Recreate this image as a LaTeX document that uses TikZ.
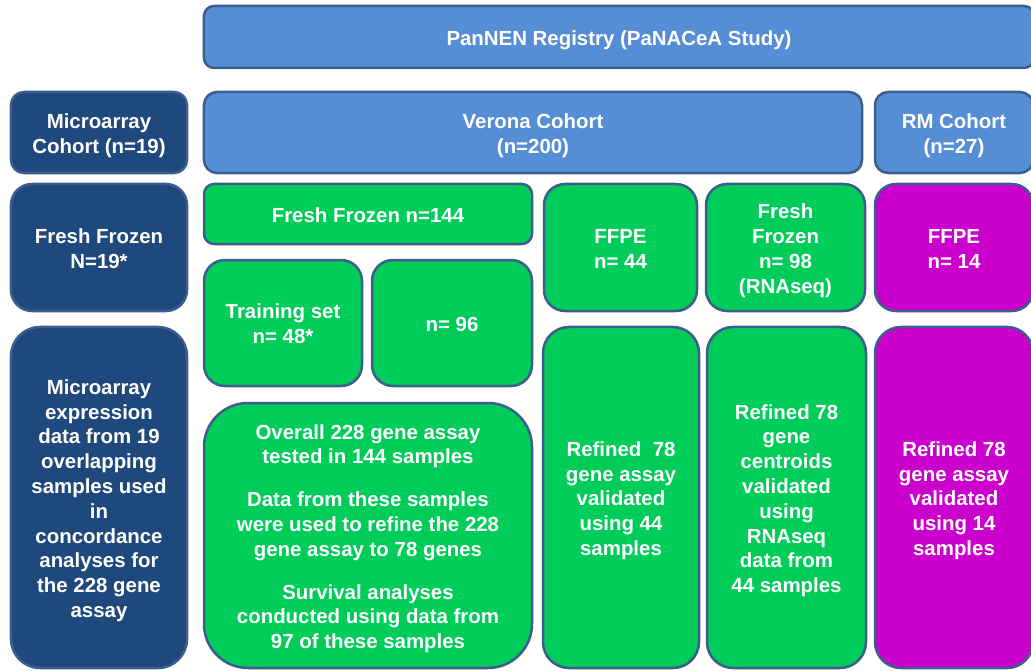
\documentclass[tikz,border=0pt]{standalone}
\usepackage{fontspec}
\setmainfont{Liberation Sans}
\definecolor{lblue}{HTML}{558ED5}
\definecolor{navy}{HTML}{1F497D}
\definecolor{grn}{HTML}{00CC5A}
\definecolor{mag}{HTML}{CC00CC}
\definecolor{edge}{HTML}{3B5E8C}
\newcommand{\T}{\rule{0pt}{21.7bp}}
\newcommand{\B}{\rule[-5bp]{0pt}{5bp}}
\tikzset{
  box/.style={rectangle, draw=edge, line width=2.5bp, inner sep=0pt, outer sep=0pt,
    text=white, align=center, font=\fontsize{20.5}{24.9}\selectfont\bfseries},
  bluebox/.style={box, fill=lblue},
  navybox/.style={box, fill=navy},
  greenbox/.style={box, fill=grn},
  magbox/.style={box, fill=mag},
  sz/.style n args={3}{minimum width=#1bp, minimum height=#2bp, rounded corners=#3bp},
}
\begin{document}
\begin{tikzpicture}[x=1bp,y=-1bp]
\useasboundingbox (0,0) rectangle (1031,671);
\clip (0,0) rectangle (1031,671);
% row 1
\node[bluebox, sz={830}{62}{10}] (pan) at (619,37) {\T PanNEN Registry (PaNACeA Study)\B};
% row 2
\node[navybox, sz={176}{81}{13}] (micro) at (99,132.5) {\T Microarray\\Cohort (n=19)\B};
\node[bluebox, sz={658}{81}{13}] (verona) at (533,132.5) {\T Verona Cohort\\(n=200)\B};
\node[bluebox, sz={158}{81}{13}] (rm) at (954,132.5) {\T RM Cohort\\(n=27)\B};
% row 3
\node[navybox, sz={176}{127}{21}] (ff19) at (99,247.5) {\T Fresh Frozen\\N=19*\B};
\node[greenbox, sz={328}{60}{10}] (ff144) at (368,214) {\T Fresh Frozen n=144\B};
\node[greenbox, sz={158}{126}{21}] (train) at (283,323) {\T Training set\\n= 48*\B};
\node[greenbox, sz={160}{126}{21}] (n96) at (452,323) {\T n= 96\B};
\node[greenbox, sz={153}{127}{21}] (ffpe44) at (620.5,247.5) {\T FFPE\\n= 44\B};
\node[greenbox, sz={159}{127}{21}] (ff98) at (785.5,247.5) {\T Fresh\\Frozen\\n= 98\\(RNAseq)\B};
\node[magbox, sz={158}{127}{21}] (ffpe14) at (954,247.5) {\T FFPE\\n= 14\B};
% row 4
\node[navybox, sz={176}{341}{29}] (mexpr) at (99,497.5) {\T Microarray\\expression\\data from 19\\overlapping\\samples used\\in\\concordance\\analyses for\\the 228 gene\\assay\B};
\node[greenbox, sz={328}{265}{44}] (overall) at (368,535.5) {\T Overall 228 gene assay\\tested in 144 samples\\[18bp]Data from these samples\\were used to refine the 228\\gene assay to 78 genes\\[18bp]Survival analyses\\conducted using data from\\97 of these samples\B};
\node[greenbox, sz={156}{341}{26}] (ref44) at (621,497.5) {\T Refined~ 78\\gene assay\\validated\\using 44\\samples\B};
\node[greenbox, sz={159}{341}{26}] (refcent) at (786.5,497.5) {\T Refined 78\\gene\\centroids\\validated\\using\\RNAseq\\data from\\44 samples\B};
\node[magbox, sz={158}{341}{26}] (refmag) at (954,497.5) {\T Refined 78\\gene assay\\validated\\using 14\\samples\B};
\end{tikzpicture}
\end{document}
